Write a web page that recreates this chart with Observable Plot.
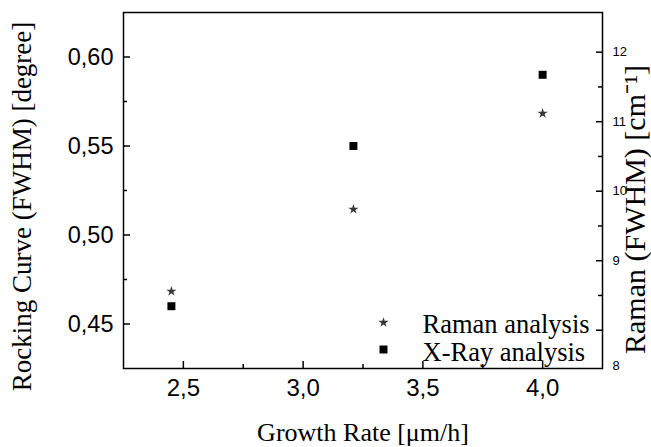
<!DOCTYPE html>
<html><head><meta charset="utf-8">
<script src="https://cdn.jsdelivr.net/npm/d3@7"></script>
<script src="https://cdn.jsdelivr.net/npm/@observablehq/plot@0.6"></script>
<style>body{margin:0;background:#fff} #chart svg{display:block}</style>
</head><body><div id="chart"></div>
<script>
const growthRate = [2.45, 3.21, 4.0];
const xrayFWHM = [0.46, 0.55, 0.59];
const ramanFWHM = [8.56, 9.74, 11.12];
const xTicks = [2.5, 3.0, 3.5, 4.0];
const xMinorTicks = [2.75, 3.25, 3.75];
const yTicks = [0.45, 0.50, 0.55, 0.60];
const yMinorTicks = [0.475, 0.525, 0.575];
const ramanTicks = [9, 10, 11, 12];
const ramanLowTick = [8];
const ramanMinorTicks = [8.5, 9.5, 10.5, 11.5];
const seriesNames = ["Raman analysis", "X-Ray analysis"];
const xTitle = "Growth Rate [μm/h]";
const yTitle = "Rocking Curve (FWHM) [degree]";
const y2Title = "Raman (FWHM) [cm⁻¹]";

const W = 651, H = 447, mL = 123, mR = 49, mT = 12, mB = 79;
const innerW = W - mL - mR, innerH = H - mT - mB;
// right (Raman) axis aligned to left axis: 8 -> 0.4465, 12 -> 0.6027
const r0 = 8, d0 = 0.4465, r1 = 12, d1 = 0.6027;
const ramanToDeg = r => d0 + (r - r0) * (d1 - d0) / (r1 - r0);
const degToRaman = d => r0 + (d - d0) * (r1 - r0) / (d1 - d0);

const data = growthRate.map((g, i) => ({g, xray: xrayFWHM[i], raman: ramanFWHM[i]}));
const serif = "Liberation Serif, Times New Roman, serif";
const sans = "Liberation Sans, Arial, sans-serif";

const chart = Plot.plot({
  width: W, height: H,
  marginLeft: mL, marginRight: mR, marginTop: mT, marginBottom: mB,
  x: {domain: [2.25, 4.25]},
  y: {domain: [0.425, 0.625]},
  style: {fontFamily: sans, background: "white", color: "black"},
  marks: [
    Plot.frame({stroke: "black", strokeWidth: 1.5}),
    // inward ticks
    Plot.ruleX(xTicks, {x: d => d, insetTop: innerH - 7, stroke: "black", strokeWidth: 1.5}),
    Plot.ruleX(xMinorTicks, {x: d => d, insetTop: innerH - 4, stroke: "black", strokeWidth: 1.5}),
    Plot.ruleY(yTicks, {y: d => d, insetRight: innerW - 7, stroke: "black", strokeWidth: 1.5}),
    Plot.ruleY(yMinorTicks, {y: d => d, insetRight: innerW - 4, stroke: "black", strokeWidth: 1.5}),
    Plot.ruleY(ramanLowTick.concat(ramanTicks).map(ramanToDeg), {y: d => d, insetLeft: innerW - 6, stroke: "black", strokeWidth: 1.5}),
    Plot.ruleY(ramanMinorTicks.map(ramanToDeg), {y: d => d, insetLeft: innerW - 4, stroke: "black", strokeWidth: 1.5}),
    // tick labels
    Plot.axisX(xTicks, {tickSize: 0, tickPadding: 10, fontSize: 24, fontFamily: sans, label: null,
      tickFormat: d => d.toFixed(1).replace(".", ",")}),
    Plot.axisY(yTicks, {anchor: "left", tickSize: 0, tickPadding: 10, fontSize: 23.5, fontFamily: sans, label: null,
      tickFormat: d => d.toFixed(2).replace(".", ",")}),
    Plot.axisY(ramanTicks.map(ramanToDeg), {anchor: "right", tickSize: 0, tickPadding: 10, fontSize: 13, fontFamily: sans, label: null,
      tickFormat: d => String(Math.round(degToRaman(d)))}),
    Plot.axisY(ramanLowTick.map(ramanToDeg), {anchor: "right", tickSize: 0, tickPadding: 10, dy: 36, fontSize: 13, fontFamily: sans, label: null,
      tickFormat: d => String(Math.round(degToRaman(d)))}),
    // data
    Plot.dot(data, {x: "g", y: "xray", symbol: "square", r: 4.5, fill: "black", stroke: null}),
    Plot.dot(data, {x: "g", y: d => ramanToDeg(d.raman), symbol: "star", r: 3.2, fill: "#383838", stroke: null}),
    // legend
    Plot.dot([seriesNames[0]], {frameAnchor: "bottom-left", dx: 260, dy: -46, symbol: "star", r: 3.2, fill: "#383838"}),
    Plot.dot([seriesNames[1]], {frameAnchor: "bottom-left", dx: 260, dy: -19, symbol: "square", r: 4.5, fill: "black"}),
    Plot.text([seriesNames[0]], {text: d => d, frameAnchor: "bottom-left", dx: 299, dy: -36, textAnchor: "start", lineAnchor: "bottom", fontSize: 26.5, fontFamily: serif, fill: "black"}),
    Plot.text([seriesNames[1]], {text: d => d, frameAnchor: "bottom-left", dx: 299, dy: -8, textAnchor: "start", lineAnchor: "bottom", fontSize: 26.5, fontFamily: serif, fill: "black"}),
    // titles
    Plot.text([xTitle], {text: d => d, frameAnchor: "bottom", dy: 72, textAnchor: "middle", lineAnchor: "bottom", fontSize: 26, fontFamily: serif, fill: "black"}),
    Plot.text([yTitle], {text: d => d, frameAnchor: "left", dx: -112, dy: 16, rotate: -90, textAnchor: "middle", lineAnchor: "top", fontSize: 27, fontFamily: serif, fill: "black"}),
    Plot.text([y2Title], {text: d => d, frameAnchor: "right", dx: 21, dy: 19, rotate: -90, textAnchor: "middle", lineAnchor: "top", fontSize: 30, fontFamily: serif, fill: "black"})
  ]
});
document.getElementById("chart").appendChild(chart);
</script>
</body></html>
